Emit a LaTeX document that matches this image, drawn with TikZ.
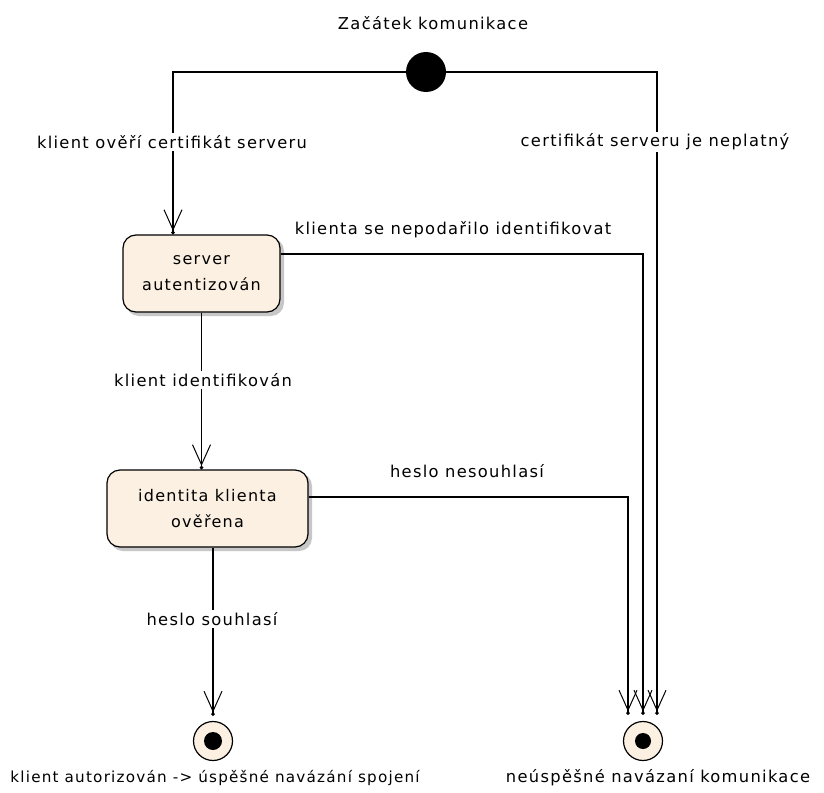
\documentclass[tikz,border=0pt]{standalone}
\usepackage{fontspec}
\setmainfont[LetterSpace=8]{DejaVu Sans}
\usetikzlibrary{arrows.meta,calc}
\definecolor{boxfill}{HTML}{FBF0E1}
\begin{document}
\begin{tikzpicture}[x=1pt,y=-1pt,
  every node/.style={font=\fontsize{16.3}{18}\selectfont},
  state/.style={draw=black, line width=1.2pt, fill=boxfill, rounded corners=13pt, align=center, inner sep=0pt,
    font=\fontsize{16}{26}\selectfont},
  shadowbox/.style={fill=black!22, rounded corners=13pt, draw=none},
  conn/.style={draw=black, line width=1.2pt, -{Straight Barb[length=20pt,width=18pt,line width=1pt]Circle[length=3.5pt]}},
  lbl/.style={fill=white, inner sep=2pt},
  startnode/.style={circle, fill=black, minimum size=40pt, inner sep=0pt},
  endnode/.style={circle, draw=black, line width=1.2pt, fill=boxfill, minimum size=39pt, inner sep=0pt}
]
\useasboundingbox (0,0) rectangle (824,792);
\fill[white] (0,0) rectangle (824,792);
% shadows
\fill[shadowbox] (126,238) rectangle (284,316);
\fill[shadowbox] (110,473) rectangle (312,551);
% nodes
\node[startnode] (st) at (426,72) {};
\node[state, minimum width=157pt, minimum height=77pt] (srv) at (201.5,273.5) {server\\autentizován};
\node[state, minimum width=201pt, minimum height=77pt] (b2) at (207.5,508.5) {identita klienta\\ověřena};
\node[endnode] (f1) at (213,741) {};
\node[endnode] (f2) at (643,741) {};
\fill[black] (f1) circle[radius=9];
\fill[black] (f2) circle[radius=8];
% connectors
\draw[conn] (st.west) -| ([xshift=-28.5pt]srv.north);
\draw[conn] (st.east) -| ([xshift=14pt,yshift=6pt]f2.north);
\draw[conn] ([yshift=19.5pt]srv.east) -| ([yshift=6pt]f2.north);
\draw[conn] ([yshift=11.5pt]b2.east) -| ([xshift=-15pt,yshift=6pt]f2.north);
\draw[conn] (srv.south) -- (srv.south |- b2.north);
\draw[conn] (f1 |- b2.south) -- ([yshift=5pt]f1.north);
% labels
\node (tst) at (433,23) {Začátek komunikace};
\node[lbl] (l1) at (172,142) {klient ověří certifikát serveru};
\node[lbl] (l2) at (655,142) {certifikát serveru je neplatný};
\node[lbl] (l3) at (453,230) {klienta se nepodařilo identifikovat};
\node[lbl] (l4) at (203,380) {klient identifikován};
\node[lbl] (l5) at (467,471) {heslo nesouhlasí};
\node[lbl] (l6) at (212,619) {heslo souhlasí};
\node[font=\fontsize{15.2}{18}\selectfont] (l7) at (215,778) {klient autorizován -> úspěšné navázání spojení};
\node (l8) at (658,778) {neúspěšné navázaní komunikace};
\end{tikzpicture}
\end{document}
